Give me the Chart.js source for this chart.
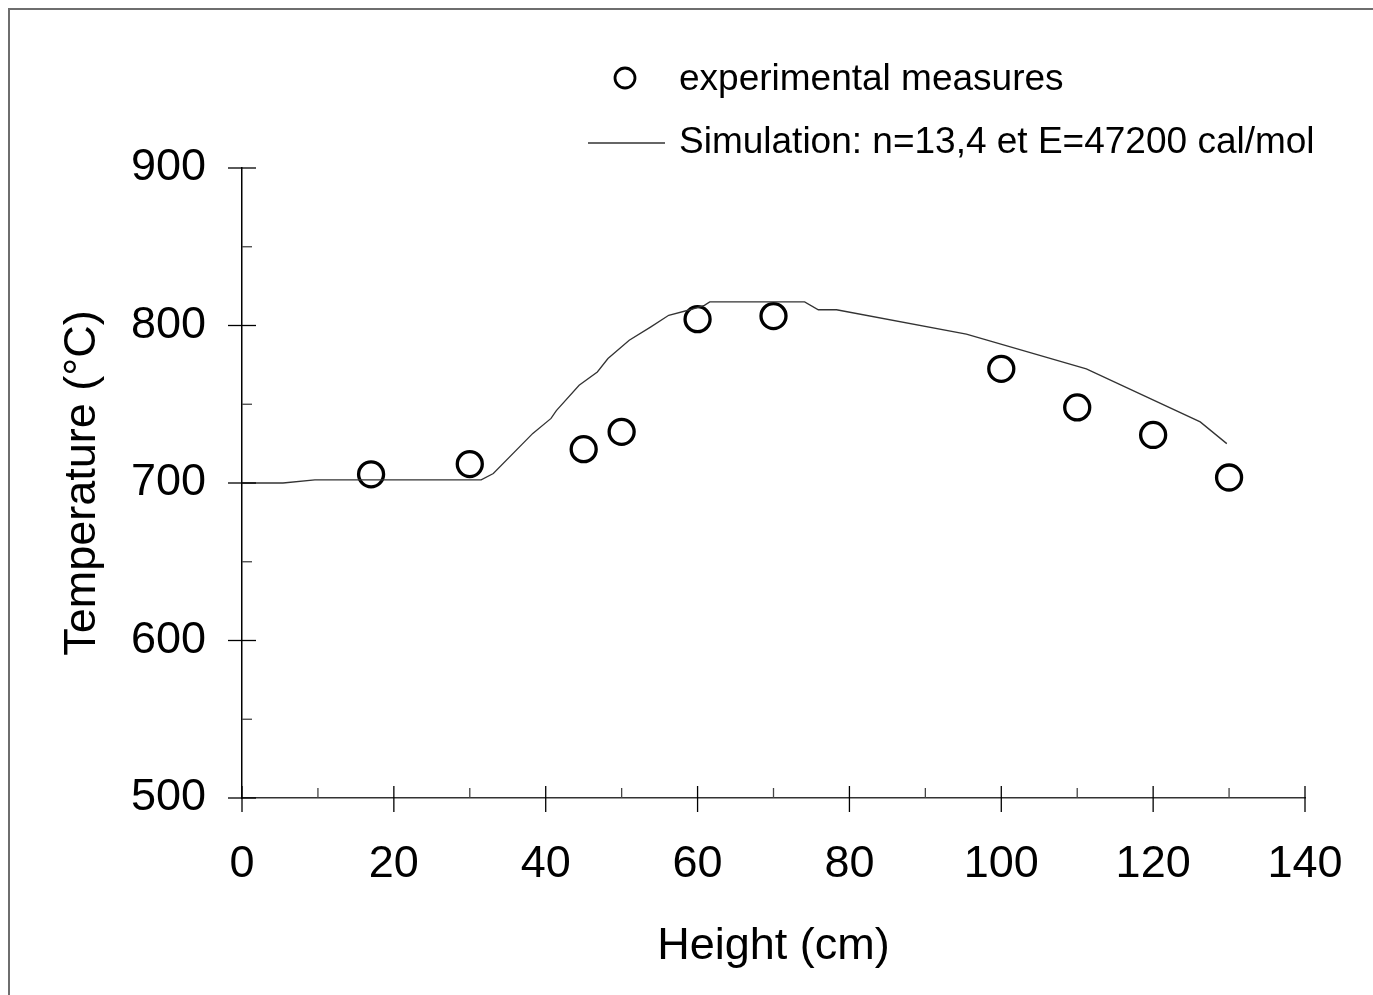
<!DOCTYPE html>
<html>
<head>
<meta charset="utf-8">
<title>Temperature vs height</title>
<script src="https://cdn.jsdelivr.net/npm/chart.js@4.4.0/dist/chart.umd.min.js"></script>
<style>
 html,body{margin:0;padding:0;background:#fff;overflow:hidden;}
 #frame{position:absolute;left:8px;top:8px;width:1400px;height:1000px;border-left:2px solid #6e6e6e;border-top:2px solid #6e6e6e;}
 #chartID{position:absolute;left:0;top:0;}
</style>
</head>
<body>
<div id="frame"></div>
<canvas id="chartID" width="1373" height="995"></canvas>
<script>
// measured points
var measHeight=[17,30,45,50,60,70,100,110,120,130];
var measTemp=[705.5,712,721.5,732.5,804,806,772.5,748,730.5,703.5];
// simulation curve
var simHeight=[0,5.4,9.6,31.5,33.1,38.3,40.7,41.4,44.4,46.8,48.2,51,53.8,56.2,59,60.9,61.6,74.1,75.9,78.3,95.4,111.2,126.2,129.7];
var simTemp=[700,700,702,702,706,731.5,741,746,762,770.5,779,790.6,799,806.5,810,812.8,815,815,810,810,794.5,772.5,738.8,725];
// axes
var xTicks=[0,20,40,60,80,100,120,140];
var xMinor=[10,30,50,70,90,110,130];
var yTicks=[500,600,700,800,900];
var yMinor=[550,650,750,850];
var measLabel='experimental measures';
var simLabel='Simulation: n=13,4 et E=47200 cal/mol';
var FONT='"Liberation Sans", Arial, sans-serif';

var measPts=measHeight.map(function(v,i){return {x:v,y:measTemp[i]};});
var simPts=simHeight.map(function(v,i){return {x:v,y:simTemp[i]};});

function line(ctx,x1,y1,x2,y2){ctx.beginPath();ctx.moveTo(x1,y1);ctx.lineTo(x2,y2);ctx.stroke();}

var tickPlugin={
 id:'tickMarks',
 afterDraw:function(chart){
  var ctx=chart.ctx, xs=chart.scales.x, ys=chart.scales.y;
  var ax=ys.getPixelForValue(yTicks[0]);
  var ay=xs.getPixelForValue(xTicks[0]);
  ctx.save();
  ctx.lineWidth=1.3;
  ctx.strokeStyle='#000';
  xTicks.forEach(function(v){var p=xs.getPixelForValue(v);line(ctx,p,ax-12,p,ax+14);});
  yTicks.forEach(function(v){var p=ys.getPixelForValue(v);line(ctx,ay-14,p,ay+14,p);});
  ctx.strokeStyle='#444';
  xMinor.forEach(function(v){var p=xs.getPixelForValue(v);line(ctx,p,ax-10,p,ax);});
  yMinor.forEach(function(v){var p=ys.getPixelForValue(v);line(ctx,ay,p,ay+10,p);});
  // legend
  ctx.fillStyle='#000';
  ctx.font='37px '+FONT;
  ctx.textBaseline='middle';
  ctx.textAlign='left';
  ctx.strokeStyle='#000';
  ctx.lineWidth=2.8;
  ctx.beginPath();ctx.arc(625,78,10,0,Math.PI*2);ctx.stroke();
  ctx.fillText(measLabel,679,80);
  ctx.strokeStyle='#333';
  ctx.lineWidth=1.3;
  line(ctx,588,143,665,143);
  ctx.fillText(simLabel,679,143);
  ctx.restore();
 }
};

new Chart(document.getElementById('chartID').getContext('2d'),{
 type:'scatter',
 data:{datasets:[
  {label:simLabel,data:simPts,showLine:true,borderColor:'#333',borderWidth:1.3,pointRadius:0,tension:0,fill:false},
  {label:measLabel,data:measPts,showLine:false,borderColor:'#000',backgroundColor:'rgba(0,0,0,0)',borderWidth:3.3,pointRadius:12.5,pointHoverRadius:12.5}
 ]},
 options:{
  responsive:false,animation:false,
  layout:{padding:{top:168,right:68,left:0,bottom:0}},
  plugins:{legend:{display:false},tooltip:{enabled:false}},
  scales:{
   x:{type:'linear',position:'bottom',min:xTicks[0],max:xTicks[xTicks.length-1],
    afterBuildTicks:function(s){s.ticks=xTicks.map(function(v){return {value:v};});},
    afterFit:function(s){s.height=197;s.paddingLeft=0;s.paddingRight=0;},
    ticks:{font:{family:FONT,size:45},color:'#000',padding:40,maxRotation:0},
    grid:{display:true,drawOnChartArea:false,drawTicks:false},
    border:{display:true,color:'#333',width:1.5},
    title:{display:true,text:'Height (cm)',color:'#000',font:{family:FONT,size:45},padding:{top:0,bottom:21}}
   },
   y:{type:'linear',position:'left',min:yTicks[0],max:yTicks[yTicks.length-1],
    afterBuildTicks:function(s){s.ticks=yTicks.map(function(v){return {value:v};});},
    afterFit:function(s){s.width=242;},
    ticks:{font:{family:FONT,size:45},color:'#000',padding:36},
    grid:{display:true,drawOnChartArea:false,drawTicks:false},
    border:{display:true,color:'#000',width:1.5},
    title:{display:true,text:'Temperature (°C)',color:'#000',font:{family:FONT,size:45},padding:{top:56,bottom:0}}
   }
  }
 },
 plugins:[tickPlugin]
});
</script>
</body>
</html>
